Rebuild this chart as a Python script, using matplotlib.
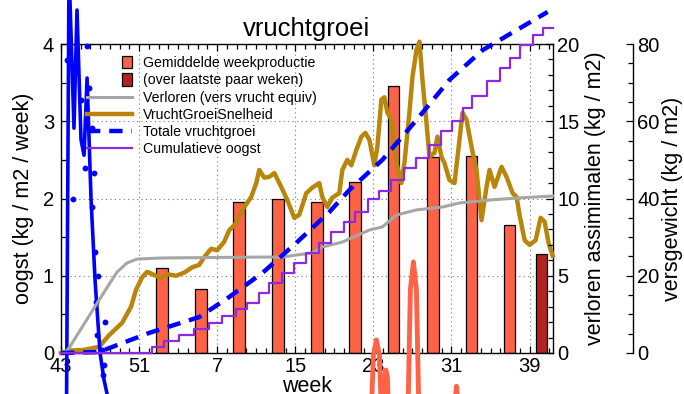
import matplotlib
matplotlib.use("Agg")
import matplotlib.pyplot as plt
import numpy as np
from matplotlib.patches import Rectangle, Patch
from matplotlib.lines import Line2D
from matplotlib.legend_handler import HandlerPatch
from matplotlib.ticker import MultipleLocator, FixedLocator

plt.rcParams["font.family"] = ["Liberation Sans", "DejaVu Sans"]

# x axis: weeks counted from week 43
tick_pos = [0, 8, 16, 24, 32, 40, 48]
tick_labels = ["43", "51", "7", "15", "23", "31", "39"]

# average weekly production (kg / m2 / week)
bar_weeks = [10.36, 14.31, 18.26, 22.26, 26.2, 30.15, 34.05, 38.1, 42.05, 45.95]
bar_prod = [1.10, 0.83, 1.96, 1.99, 1.95, 2.22, 3.45, 2.54, 2.55, 1.66]
recent_weeks = [49.23]
recent_prod = [1.28]

# fruit growth rate (kg / m2 / week)
growth_weeks = [0, 0.82, 2.36, 3.9, 4.92, 6.26, 7.18, 7.69, 8.31, 8.82, 9.54, 10.26,
                10.87, 11.79, 12.62, 13.44, 14.15, 14.67, 15.38, 16.0, 16.72, 17.23,
                17.95, 18.56, 19.49, 20.0, 20.31, 20.82, 21.33, 21.85, 22.56, 23.18,
                23.9, 24.41, 25.13, 25.74, 26.46, 26.77, 27.28, 27.79, 28.51, 28.82,
                29.33, 29.74, 30.26, 30.77, 31.18, 31.59, 32.1, 32.41, 32.82, 33.13,
                33.44, 33.85, 34.36, 34.87, 35.18, 35.69, 36.0, 36.41, 36.72, 37.03,
                37.44, 37.74, 38.26, 38.56, 38.97, 39.28, 39.79, 40.31, 40.82, 41.13,
                41.54, 42.05, 42.56, 43.08, 43.59, 43.9, 44.41, 45.13, 45.64, 46.26,
                46.67, 46.97, 47.49, 48.0, 48.62, 49.13, 49.54, 49.95, 50.36]
growth_rate = [0.0, 0.03, 0.04, 0.08, 0.23, 0.39, 0.60, 0.82, 0.98, 1.05, 1.01, 0.97,
               1.02, 1.00, 1.04, 1.11, 1.14, 1.24, 1.35, 1.33, 1.44, 1.59,
               1.68, 1.85, 2.02, 2.20, 2.37, 2.27, 2.28, 2.33, 2.15, 1.98,
               1.75, 1.79, 2.07, 2.14, 2.20, 2.02, 1.89, 2.01, 2.07, 2.37,
               2.50, 2.43, 2.63, 2.80, 2.85, 2.76, 2.43, 2.67, 3.28, 3.31,
               3.11, 3.02, 2.46, 2.20, 2.46, 3.11, 3.57, 3.92, 4.03, 3.53,
               2.98, 2.54, 2.59, 2.80, 2.54, 2.46, 2.24, 2.20, 2.76, 3.11,
               3.02, 2.67, 2.37, 1.72, 2.15, 2.37, 2.15, 2.41, 2.28, 2.07,
               2.02, 1.79, 1.46, 1.40, 1.46, 1.75, 1.70, 1.42, 1.26]

# lost assimilates, fresh fruit equivalent (kg / m2)
lost_weeks = [0.31, 0.82, 3.9, 5.74, 6.77, 7.79, 10.36, 20.6, 22.67, 24.1, 25.74,
              26.77, 28.82, 31.59, 32.92, 34.36, 36.41, 39.08, 40.82, 43.9, 46.67, 50.36]
lost_assim = [0.0, 0.32, 3.43, 5.24, 5.83, 6.08, 6.15, 6.21, 6.21, 6.34, 6.47,
              6.86, 7.18, 7.96, 8.16, 8.93, 9.26, 9.45, 9.71, 9.90, 10.03, 10.16]

# total fruit growth, fresh weight (kg / m2)
total_weeks = [0, 3.9, 9.03, 14.15, 17.23, 20.62, 24.1, 27.49, 29.54, 32.92,
               36.41, 39.79, 43.18, 46.67, 49.85]
total_growth = [0, 0.26, 5.2, 9.3, 14.5, 20.7, 28.5, 36.5, 42.2, 50.0,
                60.3, 70.7, 78.4, 83.6, 88.3]

# cumulative harvest, fresh weight (kg / m2)
harvest_weeks = [0, 9.33, 10.56, 12.10, 13.64, 15.18, 16.51, 17.95, 19.08, 20.31,
                 21.33, 22.67, 23.90, 25.13, 26.46, 27.69, 29.03, 30.15, 31.49,
                 32.62, 33.85, 35.18, 36.41, 37.74, 38.97, 40.10, 41.13, 42.15,
                 43.59, 44.92, 45.95, 46.97, 48.31, 49.33, 50.4]
harvest_cum = [0, 1.55, 3.11, 4.66, 6.21, 7.77, 9.58, 11.39, 12.94, 15.53,
               18.12, 20.71, 23.30, 25.89, 28.48, 31.33, 33.92, 36.50, 39.87,
               41.94, 44.79, 47.90, 50.49, 53.85, 57.48, 60.06, 63.43, 66.54,
               70.42, 73.79, 76.38, 79.74, 82.33, 84.14, 84.14]

# early-season daily values (kg / m2 / week)
early_weeks = [0.51, 0.82, 1.33, 1.64, 2.05, 2.36, 2.67, 3.08, 3.49, 4.0, 4.41, 4.72, 4.92]
early_vals = [-1.90, 4.96, 2.91, 4.44, 2.76, 2.56, 3.56, 1.98, 0.94, 0.0, -0.35, -0.53, -0.87]
early_pt_weeks = [0.62, 2.67, 2.05, 2.87, 2.46, 3.38, 1.23, 3.18, 3.18, 3.49, 3.79,
                  3.59, 4.51, 3.69, 4.21, 4.41, 4.31]
early_pt_vals = [3.79, 3.97, 3.28, 3.43, 2.39, 2.33, 1.99, 2.91, 1.89, 1.31, 1.00,
                 0.66, 0.40, 0.23, 0.04, -0.16, -0.28]

# daily production peaks (kg / m2 / week)
peak_weeks = [31.69, 32.0, 32.31, 32.62, 32.92, np.nan,
              32.92, 33.13, 33.28, 33.44, 33.64, np.nan,
              35.49, 35.79, 36.1, 36.41, 36.72, np.nan,
              40.21, 40.51, 40.82]
peak_vals = [-1.13, -0.03, 0.17, -0.03, -1.13, np.nan,
             -1.13, -0.32, -0.22, -0.32, -1.13, np.nan,
             -1.13, 0.82, 1.18, 0.82, -1.13, np.nan,
             -0.87, -0.43, -0.87]

C_BAR = "#FF6347"
C_RECENT = "#B22222"
C_LOST = "#A6A6A6"
C_GROWTH = "#B8860B"
C_TOTAL = "#0000FF"
C_HARVEST = "#8A2BE2"

fig = plt.figure(figsize=(6.84, 3.94), dpi=100)
ax = fig.add_axes([61 / 684, 41 / 394, 492 / 684, 309 / 394])
ax2 = ax.twinx()
ax3 = ax.twinx()
ax3.spines["right"].set_position(("axes", 1.1626))
for a in (ax2, ax3):
    a.spines["left"].set_visible(False)
    a.spines["top"].set_visible(False)
    a.spines["bottom"].set_visible(False)
    a.patch.set_visible(False)
ax2.spines["right"].set_visible(False)

ax.set_xlim(0, 50.4)
ax.set_ylim(0, 4)
ax2.set_ylim(0, 20)
ax3.set_ylim(0, 80)

# bars
ax.bar(bar_weeks, bar_prod, width=1.2, color=C_BAR, edgecolor="black", linewidth=0.9, zorder=2)
ax.bar(recent_weeks, recent_prod, width=1.2, color=C_RECENT, edgecolor="black", linewidth=0.9, zorder=2)

# lines
ax.plot(growth_weeks, growth_rate, color=C_GROWTH, lw=3.2, zorder=4, clip_on=False,
        solid_joinstyle="round")
ax2.plot(lost_weeks, lost_assim, color=C_LOST, lw=2.2, zorder=3, clip_on=False)
ax3.plot(total_weeks, total_growth, color=C_TOTAL, lw=3.2, dashes=(3, 2), zorder=3, clip_on=False)
ax3.step(harvest_weeks, harvest_cum, where="post", color=C_HARVEST, lw=1.6, zorder=3, clip_on=False)

ax.plot(early_weeks, early_vals, color=C_TOTAL, lw=2.6, zorder=5, clip_on=False)
ax.plot(early_pt_weeks, early_pt_vals, "o", color=C_TOTAL, ms=3.2, zorder=5, clip_on=False)
ax.plot(peak_weeks, peak_vals, color=C_BAR, lw=3.5, zorder=5, clip_on=False,
        solid_joinstyle="round")

# grid and ticks
ax.xaxis.set_major_locator(FixedLocator(tick_pos))
ax.set_xticklabels(tick_labels)
ax.xaxis.set_minor_locator(MultipleLocator(1))
ax.yaxis.set_major_locator(MultipleLocator(1))
ax.yaxis.set_minor_locator(MultipleLocator(0.5))
ax2.yaxis.set_major_locator(MultipleLocator(5))
ax2.yaxis.set_minor_locator(MultipleLocator(1))
ax3.yaxis.set_major_locator(MultipleLocator(20))
ax3.yaxis.set_minor_locator(MultipleLocator(5))
ax.grid(True, which="major", linestyle=(0, (1, 3)), color="#777777", lw=0.8)

for a in (ax, ax2, ax3):
    a.tick_params(which="both", direction="in", labelsize=14.5, width=0.9)
    a.tick_params(which="major", length=5)
    a.tick_params(which="minor", length=3.5)
ax.tick_params(axis="x", top=True, which="both", pad=3)
ax.tick_params(axis="y", pad=5)
ax2.tick_params(axis="y", pad=3)
ax3.tick_params(axis="y", pad=3)
for s in ax.spines.values():
    s.set_linewidth(1.0)
ax3.spines["right"].set_linewidth(1.0)

ax.set_title("vruchtgroei", fontsize=18.5, pad=6)
ax.set_xlabel("week", fontsize=15.5, labelpad=0)
ax.set_ylabel("oogst (kg / m2 / week)", fontsize=15.5, labelpad=6)
ax2.set_ylabel("verloren assimimalen (kg / m2)", fontsize=15.5, labelpad=4)
ax3.set_ylabel("versgewicht (kg / m2)", fontsize=15.5, labelpad=2)


def small_square(legend, orig_handle, xdescent, ydescent, width, height, fontsize):
    w = 0.72 * fontsize
    h = 0.86 * fontsize
    return Rectangle((width - w - xdescent, -ydescent + (height - h) / 2), w, h)


handles = [
    Patch(facecolor=C_BAR, edgecolor="black", linewidth=0.9),
    Patch(facecolor=C_RECENT, edgecolor="black", linewidth=0.9),
    Line2D([], [], color=C_LOST, lw=2.2),
    Line2D([], [], color=C_GROWTH, lw=3.2),
    Line2D([], [], color=C_TOTAL, lw=3.2, dashes=(3, 2)),
    Line2D([], [], color=C_HARVEST, lw=1.6),
]
labels = ["Gemiddelde weekproductie", "(over laatste paar weken)",
          "Verloren (vers vrucht equiv)", "VruchtGroeiSnelheid",
          "Totale vruchtgroei", "Cumulatieve oogst"]
leg = ax3.legend(handles, labels, loc="upper left", bbox_to_anchor=(0.052, 0.96),
                 frameon=False, fontsize=10.2, handlelength=3.2, handletextpad=0.8,
                 labelspacing=0.22, borderpad=0, borderaxespad=0,
                 handler_map={Patch: HandlerPatch(patch_func=small_square)})

fig.savefig("out.png", dpi=100)
